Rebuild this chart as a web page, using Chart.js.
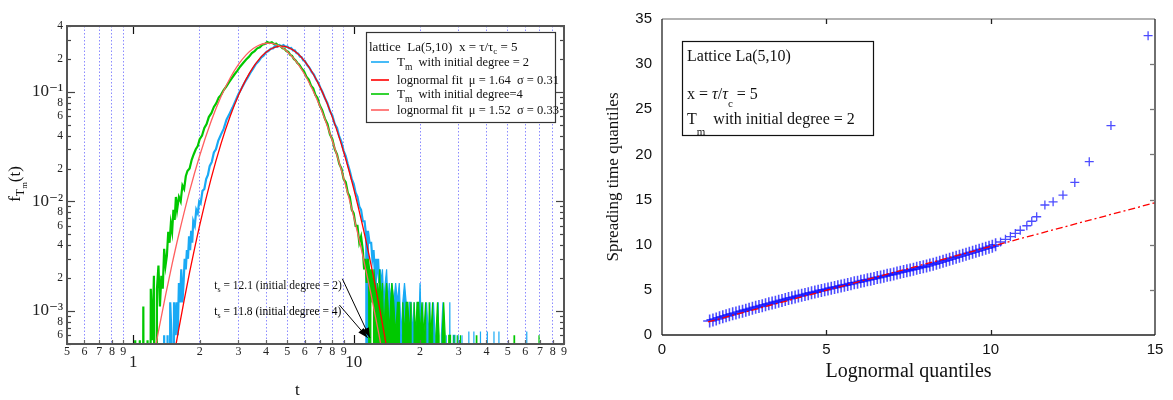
<!DOCTYPE html>
<html>
<head>
<meta charset="utf-8">
<script src="https://cdn.jsdelivr.net/npm/chart.js@4.4.0/dist/chart.umd.min.js"></script>
<style>
  html, body { margin: 0; padding: 0; background: #fff; }
  #wrap { position: relative; width: 1173px; height: 400px; overflow: hidden; }
  #left { position: absolute; left: 0; top: 0; }
  #right { position: absolute; left: 586px; top: 0; }
</style>
</head>
<body>
<div id="wrap">
  <canvas id="left" width="590" height="400"></canvas>
  <canvas id="right" width="587" height="400"></canvas>
</div>
<script>
// ---------- data: left panel (pdf of T_m, log-log) ----------
// zero bins are stored as 1e-9 so they fall off the bottom of the log axis
const deg2Body = [
  [1.36,1e-9],[1.38,6e-4],[1.40,1e-9],[1.43,6e-4],[1.45,1e-9],[1.47,1.2e-3],[1.49,6e-4],[1.51,1e-9],
  [1.53,1.2e-3],[1.55,6e-4],[1.57,1.2e-3],[1.59,6e-4],[1.61,1.8e-3],[1.63,1.2e-3],[1.65,2.4e-3],[1.67,1.2e-3],
  [1.69,1.8e-3],[1.71,3.0e-3],[1.73,2.4e-3],[1.75,3.6e-3],[1.77,3.0e-3],[1.79,4.8e-3],[1.81,3.6e-3],[1.83,5.4e-3],
  [1.85,4.2e-3],[1.87,6.6e-3],[1.90,6.0e-3],[1.93,8.4e-3],[1.96,7.8e-3],[1.99,1.0e-2],[2.02,9.6e-3],[2.06,1.25e-2],
  [2.10,1.3e-2],[2.14,1.6e-2],[2.18,1.75e-2],[2.22,2.1e-2],[2.27,2.3e-2],[2.32,2.8e-2],[2.37,3.0e-2],[2.43,3.6e-2],
  [2.50,4.1e-2],[2.57,4.6e-2],[2.65,5.6e-2],[2.73,6.3e-2],[2.82,7.2e-2],[2.91,8.3e-2],[3.00,9.6e-2],[3.10,0.108],
  [3.20,0.122],[3.30,0.135],[3.40,0.150],[3.50,0.164],[3.60,0.180],[3.70,0.190],[3.80,0.206],[3.90,0.214],
  [4.00,0.230],[4.10,0.236],[4.20,0.248],[4.30,0.250],[4.40,0.262],[4.50,0.258],[4.60,0.268],[4.70,0.262],
  [4.80,0.268],[4.90,0.258],[5.00,0.260],[5.10,0.250],[5.20,0.252],[5.30,0.240],[5.40,0.240],[5.50,0.226],
  [5.60,0.224],[5.70,0.210],[5.80,0.208],[5.90,0.194],[6.00,0.192],[6.15,0.176],[6.30,0.166],[6.45,0.152],
  [6.60,0.144],[6.75,0.130],[6.90,0.122],[7.05,0.110],[7.20,0.101],[7.40,8.8e-2],[7.60,7.9e-2],[7.80,6.7e-2],
  [8.00,6.1e-2],[8.20,5.1e-2],[8.40,4.7e-2],[8.60,3.9e-2],[8.80,3.5e-2],[9.00,2.9e-2],[9.20,2.6e-2],[9.40,2.2e-2],
  [9.60,1.9e-2],[9.80,1.6e-2],[10.0,1.45e-2],[10.2,1.2e-2],[10.4,1.1e-2],[10.6,9.0e-3],[10.8,8.4e-3],[11.0,6.6e-3],
  [11.2,6.6e-3],[11.4,4.8e-3],[11.5,1e-9],[11.6,5.4e-3],[11.8,4.2e-3],[12.0,4.2e-3],[12.15,3.0e-3],[12.3,3.6e-3],
  [12.45,2.4e-3],[12.55,1e-9],[12.6,3.0e-3],[12.75,2.4e-3],[12.9,3.0e-3],[13.05,1.8e-3]
];
const deg2Tail = [
  [13.05,1.8e-3],
  [13.2,2.4e-3],[13.35,1.8e-3],[13.5,2.4e-3],[13.7,1.2e-3],[13.9,1.8e-3],[14.1,2.4e-3],[14.3,1.2e-3],[14.5,1.8e-3],
  [14.7,1.2e-3],[14.9,1.8e-3],[15.2,1.2e-3],[15.5,1.8e-3],[15.8,1.2e-3],[16.1,1.8e-3],[16.4,6e-4],[16.7,1.2e-3],
  [17.0,1.8e-3],[17.3,1.2e-3],[17.6,6e-4],[17.9,1.2e-3],[18.2,1.2e-3],[18.5,6e-4],[18.8,1.2e-3],[19.1,1e-9],
  [19.4,1.2e-3],[19.7,6e-4],[20.0,1.8e-3],[20.3,6e-4],[20.6,1.2e-3],[21.0,1e-9],[21.4,1.2e-3],[21.8,6e-4],
  [22.2,1.2e-3],[22.6,1e-9],[23.0,1.2e-3],[23.4,6e-4],[23.8,1e-9],[24.2,1.2e-3],[24.6,1e-9],[25.0,6e-4],
  [25.4,1.2e-3],[25.8,1e-9],[26.3,6e-4],[26.8,1e-9],[27.3,1.2e-3],[27.8,1e-9],[28.3,6e-4],[28.8,6e-4],
  [29.3,1e-9],[29.8,6e-4],[30.3,1e-9],[31.0,6e-4],[31.5,1e-9],[33.0,1e-9],[33.3,6.5e-4],[33.6,1e-9],
  [34.8,1e-9],[35.1,6.5e-4],[35.4,1e-9],[37.3,1e-9],[37.6,6.5e-4],[37.9,1e-9],[40.1,1e-9],[40.4,6.5e-4],
  [40.7,1e-9],[43.0,1e-9],[43.3,6.5e-4],[43.6,1e-9],[45.3,1e-9],[45.6,6.5e-4],[45.9,1e-9],[60.7,1e-9],
  [61.0,6.5e-4],[61.3,1e-9]
];
const deg4Body = [
  [1.00,1e-9],[1.02,5.4e-4],[1.04,1e-9],[1.07,5.4e-4],[1.09,1e-9],[1.11,1.1e-3],[1.13,1e-9],[1.16,5.4e-4],
  [1.18,1e-9],[1.20,1.6e-3],[1.22,5.4e-4],[1.24,2.1e-3],[1.26,1e-9],[1.28,1.6e-3],[1.30,2.6e-3],[1.32,1.1e-3],
  [1.34,2.1e-3],[1.36,1.6e-3],[1.38,3.7e-3],[1.40,2.6e-3],[1.42,3.2e-3],[1.44,5.3e-3],[1.46,4.2e-3],[1.48,6.3e-3],
  [1.50,5.3e-3],[1.52,8.4e-3],[1.54,6.8e-3],[1.56,1.1e-2],[1.58,8.4e-3],[1.61,1.1e-2],[1.64,1.0e-2],[1.67,1.4e-2],
  [1.70,1.3e-2],[1.73,1.7e-2],[1.76,1.9e-2],[1.80,2.0e-2],[1.84,2.4e-2],[1.88,2.7e-2],[1.92,3.0e-2],[1.96,3.2e-2],
  [2.00,3.7e-2],[2.05,4.0e-2],[2.10,4.7e-2],[2.15,5.1e-2],[2.20,5.9e-2],[2.26,6.4e-2],[2.32,7.3e-2],[2.38,7.9e-2],
  [2.44,8.9e-2],[2.50,9.4e-2],[2.57,0.104],[2.64,0.112],[2.72,0.123],[2.80,0.134],[2.88,0.145],[2.96,0.156],
  [3.05,0.170],[3.15,0.184],[3.25,0.198],[3.35,0.210],[3.45,0.226],[3.55,0.236],[3.65,0.250],[3.75,0.256],
  [3.85,0.270],[3.95,0.274],[4.05,0.286],[4.15,0.280],[4.25,0.284],[4.35,0.274],[4.45,0.276],[4.55,0.264],
  [4.65,0.262],[4.75,0.250],[4.85,0.248],[4.95,0.236],[5.05,0.232],[5.15,0.218],[5.25,0.214],[5.35,0.200],
  [5.45,0.194],[5.55,0.184],[5.65,0.178],[5.80,0.164],[5.95,0.154],[6.10,0.138],[6.25,0.130],[6.40,0.114],
  [6.55,0.108],[6.70,9.4e-2],[6.85,8.8e-2],[7.00,7.6e-2],[7.20,6.8e-2],[7.40,5.7e-2],[7.60,5.1e-2],[7.80,4.1e-2],
  [8.00,3.7e-2],[8.20,3.0e-2],[8.40,2.7e-2],[8.60,2.2e-2],[8.80,2.0e-2],[9.00,1.6e-2],[9.20,1.5e-2],[9.40,1.2e-2],
  [9.60,1.1e-2],[9.80,8.4e-3],[10.0,7.8e-3],[10.2,6.0e-3],[10.4,6.0e-3],[10.6,4.2e-3],[10.8,4.8e-3],[11.0,3.6e-3],
  [11.15,2.4e-3],[11.3,3.0e-3],[11.45,1.8e-3],[11.6,3.0e-3],[11.75,2.4e-3],[11.85,1e-9],[11.9,1.8e-3],[12.05,2.4e-3],
  [12.2,1.2e-3]
];
const deg4Tail = [
  [12.2,1.2e-3],[12.35,2.4e-3],[12.5,1.8e-3],[12.65,1.2e-3],[12.8,1.8e-3],[12.95,1.2e-3],[13.1,2.4e-3],[13.3,1.2e-3],
  [13.5,1.8e-3],[13.7,6e-4],[13.9,1.2e-3],[14.1,1.8e-3],[14.3,1.2e-3],[14.5,6e-4],[14.7,1.2e-3],[14.9,1.8e-3],
  [15.2,1.2e-3],[15.5,6e-4],[15.8,1.2e-3],[16.1,1.2e-3],[16.4,1e-9],[16.7,1.2e-3],[17.0,6e-4],[17.3,1.2e-3],
  [17.6,1.2e-3],[17.9,6e-4],[18.2,1.2e-3],[18.5,1e-9],[18.8,1.2e-3],[19.1,6e-4],[19.4,1.2e-3],[19.7,1.2e-3],
  [20.0,6e-4],[20.4,1.2e-3],[20.8,6e-4],[21.2,1.2e-3],[21.6,1e-9],[22.0,1.2e-3],[22.4,6e-4],[22.8,1.2e-3],
  [23.2,1e-9],[23.6,6e-4],[24.0,1.2e-3],[24.4,6e-4],[24.8,1e-9],[25.2,6e-4],[25.6,1.2e-3],[26.0,6e-4],
  [26.5,1e-9],[27.0,6e-4],[27.5,6e-4],[28.0,1e-9],[28.5,6e-4],[29.0,1e-9],[29.5,6e-4],[30.0,1e-9],
  [30.5,6e-4],[31.0,1e-9],[35.8,1e-9],[36.0,6e-4],[36.2,1e-9],[53.1,1e-9],[53.4,6e-4],[53.7,1e-9],
  [69.0,1e-9],[69.3,6e-4],[69.6,1e-9]
];
// lognormal fits, values
const fit2 = [
  [1.55,4.53e-4],[1.6,6.49e-4],[1.7,1.252e-3],[1.8,2.253e-3],[2.0,6.06e-3],[2.25,1.599e-2],[2.5,3.375e-2],
  [2.75,5.995e-2],[3.0,9.33e-2],[3.25,0.1309],[3.5,0.1685],[3.75,0.2026],[4.0,0.2301],[4.25,0.2494],[4.5,0.2598],
  [4.75,0.2616],[5.0,0.2561],[5.5,0.2289],[6.0,0.1902],[6.5,0.1497],[7.0,0.1130],[7.5,0.0826],[8.0,0.0589],
  [8.5,0.0412],[9.0,0.02843],[9.5,0.01938],[10,0.01311],[11,5.89e-3],[12,2.61e-3],[13,1.155e-3],[14,5.10e-4],[14.25,4.16e-4]
];
const fit4 = [
  [1.25,4.28e-4],[1.3,6.53e-4],[1.4,1.39e-3],[1.5,2.689e-3],[1.6,4.79e-3],[1.8,1.243e-2],[2.0,2.618e-2],
  [2.25,5.34e-2],[2.5,9.07e-2],[2.75,0.1342],[3.0,0.1783],[3.25,0.2179],[3.5,0.2489],[3.75,0.2692],[4.0,0.2784],
  [4.25,0.2776],[4.5,0.2683],[4.75,0.2528],[5.0,0.2331],[5.5,0.1879],[6.0,0.1435],[6.5,0.1054],[7.0,0.0751],
  [7.5,0.05236],[8.0,0.0359],[8.5,0.02433],[9.0,0.01636],[9.5,0.01092],[10,7.26e-3],[11,3.19e-3],[12,1.402e-3],
  [13,6.18e-4],[13.5,4.12e-4]
];
const tsValues = [12.1, 11.8];
const tsNotes = [' = 12.1 (initial degree = 2)', ' = 11.8 (initial degree = 4)'];
const legendLeft = [
  ['T', 'm', '  with initial degree = 2'],
  ['lognormal fit  \u03bc = 1.64  \u03c3 = 0.31'],
  ['T', 'm', '  with initial degree=4'],
  ['lognormal fit  \u03bc = 1.52  \u03c3 = 0.33']
];
const xTicksLog = [0.5,0.6,0.7,0.8,0.9,1,2,3,4,5,6,7,8,9,10,20,30,40,50,60,70,80,90];
const yTicksLog = [5e-4,6e-4,7e-4,8e-4,9e-4,1e-3,2e-3,3e-3,4e-3,5e-3,6e-3,7e-3,8e-3,9e-3,
  1e-2,2e-2,3e-2,4e-2,5e-2,6e-2,7e-2,8e-2,9e-2,0.1,0.2,0.3,0.4];

// ---------- data: right panel (QQ plot) ----------
const qqPoints = [
  [1.45,1.55],[1.55,1.67],[1.65,1.78],[1.75,1.90],[1.85,2.01],[1.95,2.12],[2.05,2.23],[2.15,2.34],
  [2.25,2.44],[2.35,2.54],[2.45,2.64],[2.55,2.75],[2.65,2.85],[2.75,2.95],[2.85,3.06],[2.95,3.15],
  [3.05,3.25],[3.15,3.35],[3.25,3.45],[3.35,3.54],[3.45,3.64],[3.55,3.74],[3.65,3.83],[3.75,3.93],
  [3.85,4.03],[3.95,4.12],[4.05,4.21],[4.15,4.31],[4.25,4.40],[4.35,4.48],[4.45,4.58],[4.55,4.67],
  [4.65,4.75],[4.75,4.85],[4.85,4.94],[4.95,5.02],[5.05,5.10],[5.15,5.19],[5.25,5.27],[5.35,5.35],
  [5.45,5.44],[5.55,5.52],[5.65,5.60],[5.75,5.69],[5.85,5.78],[5.95,5.85],[6.05,5.94],[6.15,6.02],
  [6.25,6.11],[6.35,6.18],[6.45,6.27],[6.55,6.36],[6.65,6.43],[6.75,6.52],[6.85,6.61],[6.95,6.68],
  [7.05,6.77],[7.15,6.86],[7.25,6.95],[7.35,7.03],[7.45,7.12],[7.55,7.21],[7.65,7.29],[7.75,7.38],
  [7.85,7.47],[7.95,7.55],[8.05,7.65],[8.15,7.75],[8.25,7.85],[8.35,7.95],[8.45,8.06],[8.55,8.18],
  [8.65,8.28],[8.75,8.39],[8.85,8.51],[8.95,8.61],[9.05,8.72],[9.15,8.84],[9.25,8.95],[9.35,9.06],
  [9.45,9.17],[9.55,9.28],[9.65,9.38],[9.75,9.50],[9.85,9.61],[9.95,9.71],[10.05,9.84],
  [10.15,10.0],[10.3,10.3],[10.45,10.6],[10.6,10.9],[10.75,11.25],[10.9,11.6],
  [11.1,12.1],[11.25,12.6],[11.4,13.1],[11.65,14.4],[11.9,14.75],[12.2,15.5],[12.56,16.9],[13.0,19.2],
  [13.66,23.2],[14.79,33.15]
];
const qqFit = [[1.4,1.45],[15,14.65]];
const legendRight = ['Lattice La(5,10)', '= 5', 'with initial degree = 2'];

// ---------- styling helpers ----------
const SERIF = '"Liberation Serif", "DejaVu Serif", serif';
const SANS = '"Liberation Sans", Arial, sans-serif';
const BLUE = 'rgb(25,170,245)';
const GREEN = 'rgb(0,200,0)';
const RED = 'rgb(255,0,0)';
const PINK = 'rgb(255,95,95)';
const SUP = { '-': '\u207b', '1': '\u00b9', '2': '\u00b2', '3': '\u00b3', '4': '\u2074' };

const pts = (arr) => arr.map(([x, y]) => ({ x, y }));
function mant(v) {
  const e = Math.floor(Math.log10(v) + 1e-9);
  return { m: Math.round(v / Math.pow(10, e)), e };
}
function sup(n) { return String(n).split('').map(c => SUP[c]).join(''); }
function rich(ctx, x, y, parts) {
  parts.forEach(p => {
    ctx.font = `${p.italic ? 'italic ' : ''}${p.size}px ${SERIF}`;
    ctx.fillText(p.t, x, y + (p.dy || 0));
    x += ctx.measureText(p.t).width;
  });
  return x;
}
function richWidth(ctx, parts) {
  return parts.reduce((w, p) => { ctx.font = `${p.size}px ${SERIF}`; return w + ctx.measureText(p.t).width; }, 0);
}
function seg(ctx, x1, y1, x2, y2) { ctx.beginPath(); ctx.moveTo(x1, y1); ctx.lineTo(x2, y2); ctx.stroke(); }

// ---------- left panel ----------
const leftDecor = {
  id: 'leftDecor',
  afterDraw(chart) {
    const { ctx, chartArea: a, scales: { x, y } } = chart;
    ctx.save();
    // inward ticks
    ctx.strokeStyle = '#444'; ctx.lineWidth = 1.2;
    y.ticks.forEach(t => {
      const py = Math.round(y.getPixelForValue(t.value)) + 0.5;
      const len = mant(t.value).m === 1 ? 8 : 4;
      seg(ctx, a.left, py, a.left + len, py);
      seg(ctx, a.right, py, a.right - len, py);
    });
    x.ticks.forEach(t => {
      const px = Math.round(x.getPixelForValue(t.value)) + 0.5;
      if (mant(t.value).m === 1) {
        ctx.strokeStyle = '#111';
        seg(ctx, px, a.bottom, px, a.bottom - 9);
        seg(ctx, px, a.top, px, a.top + 8);
      } else {
        ctx.strokeStyle = '#666';
        seg(ctx, px, a.bottom, px, a.bottom - 4);
      }
    });
    // frame
    ctx.strokeStyle = '#555'; ctx.lineWidth = 2;
    ctx.strokeRect(a.left, a.top, a.right - a.left, a.bottom - a.top);

    // axis titles
    ctx.fillStyle = '#111'; ctx.textBaseline = 'alphabetic';
    ctx.font = `17px ${SERIF}`;
    ctx.fillText('t', 295, 395);
    const yTitle = [{ t: 'f', size: 17 }, { t: 'T', size: 12, dy: 4 }, { t: 'm', size: 8.5, dy: 7 }, { t: '(t)', size: 17 }];
    ctx.save();
    ctx.translate(20, 184); ctx.rotate(-Math.PI / 2);
    rich(ctx, -richWidth(ctx, yTitle) / 2, 0, yTitle);
    ctx.restore();

    // t_s annotations with arrows
    const noteX = x.getPixelForValue(2.33);
    const noteY = [y.getPixelForValue(1.59e-3), y.getPixelForValue(9.2e-4)];
    const tails = [[x.getPixelForValue(8.88), y.getPixelForValue(1.97e-3)], [x.getPixelForValue(8.61), y.getPixelForValue(1.135e-3)]];
    tsValues.forEach((ts, i) => {
      rich(ctx, noteX, noteY[i], [{ t: 't', size: 11.5 }, { t: 's', size: 8, dy: 3 }, { t: tsNotes[i], size: 11.5 }]);
      const tx = x.getPixelForValue(ts) - 2, ty = y.getPixelForValue(5.7e-4);
      const [sx, sy] = tails[i];
      ctx.strokeStyle = '#000'; ctx.lineWidth = 1;
      seg(ctx, sx, sy, tx, ty);
      const ang = Math.atan2(ty - sy, tx - sx);
      ctx.beginPath();
      ctx.moveTo(tx, ty);
      ctx.lineTo(tx - 10 * Math.cos(ang) + 3.5 * Math.sin(ang), ty - 10 * Math.sin(ang) - 3.5 * Math.cos(ang));
      ctx.lineTo(tx - 10 * Math.cos(ang) - 3.5 * Math.sin(ang), ty - 10 * Math.sin(ang) + 3.5 * Math.cos(ang));
      ctx.closePath(); ctx.fillStyle = '#000'; ctx.fill();
    });

    // legend box
    const bx = a.right - 198, by = a.top + 6, bw = 189, bh = 90;
    ctx.fillStyle = '#fff'; ctx.fillRect(bx, by, bw, bh);
    ctx.strokeStyle = '#333'; ctx.lineWidth = 1.2; ctx.strokeRect(bx + 0.5, by + 0.5, bw, bh);
    ctx.fillStyle = '#111';
    rich(ctx, bx + 3, by + 19, [
      { t: 'lattice  La(5,10)  x = \u03c4/\u03c4', size: 13 }, { t: 'c', size: 9, dy: 3 }, { t: ' = 5', size: 13 }
    ]);
    const colors = [BLUE, RED, GREEN, PINK];
    const rows = [30, 48, 62, 78];
    legendLeft.forEach((parts, i) => {
      const ly = by + rows[i];
      ctx.strokeStyle = colors[i]; ctx.lineWidth = 1.6;
      seg(ctx, bx + 5, ly, bx + 23, ly);
      ctx.fillStyle = '#111';
      const p = parts.length === 3
        ? [{ t: parts[0], size: 13 }, { t: parts[1], size: 9.5, dy: 4 }, { t: parts[2], size: 12.5 }]
        : [{ t: parts[0], size: 12.5 }];
      rich(ctx, bx + 31, ly + 4, p);
    });
    ctx.restore();
  }
};

const lineDs = (data, color, width, order, extra) => Object.assign({
  data: pts(data), showLine: true, borderColor: color, backgroundColor: color,
  borderWidth: width, pointRadius: 0, order
}, extra || {});

new Chart(document.getElementById('left'), {
  type: 'scatter',
  data: {
    datasets: [
      lineDs(fit4, PINK, 1.3, 0, { cubicInterpolationMode: 'monotone' }),
      lineDs(fit2, RED, 1.3, 1, { cubicInterpolationMode: 'monotone' }),
      lineDs(deg4Tail, GREEN, 1.2, 2, { fill: 'start' }),
      lineDs(deg4Body, GREEN, 2.2, 3),
      lineDs(deg2Tail, BLUE, 1.2, 4, { fill: 'start' }),
      lineDs(deg2Body, BLUE, 2.2, 5)
    ]
  },
  options: {
    responsive: false, animation: false, events: [],
    layout: { padding: { top: 26, right: 26, left: 0, bottom: 0 } },
    plugins: { legend: { display: false }, tooltip: { enabled: false } },
    scales: {
      x: {
        type: 'logarithmic', min: 0.5, max: 90,
        afterBuildTicks: s => { s.ticks = xTicksLog.map(v => ({ value: v, major: mant(v).m === 1 })); },
        afterFit: s => { s.height = 56; },
        grid: {
          drawTicks: false, lineWidth: 1,
          color: c => (c.tick && mant(c.tick.value).m !== 1) ? 'rgba(110,110,255,0.8)' : 'rgba(0,0,0,0)'
        },
        border: { display: false, dash: [1.5, 2] },
        ticks: {
          autoSkip: false, maxRotation: 0, minRotation: 0, padding: 2, color: '#222',
          font: c => (c.tick && mant(c.tick.value).m === 1)
            ? { family: SERIF, size: 17, lineHeight: 1.9 }
            : { family: SERIF, size: 12, lineHeight: 1 },
          callback: v => { const { m } = mant(v); return m === 1 ? String(v) : String(m); }
        }
      },
      y: {
        type: 'logarithmic', min: 5e-4, max: 0.4,
        afterBuildTicks: s => { s.ticks = yTicksLog.map(v => ({ value: v, major: mant(v).m === 1 })); },
        afterFit: s => { s.width = 67; },
        grid: { display: false, drawTicks: false },
        border: { display: false },
        ticks: {
          autoSkip: false, padding: 4, color: '#222',
          font: c => (c.tick && mant(c.tick.value).m === 1)
            ? { family: SERIF, size: 17, lineHeight: 1.2 }
            : { family: SERIF, size: 11.5, lineHeight: 1.2 },
          callback: v => {
            const { m, e } = mant(v);
            if (m === 1) return '10' + sup(e);
            return m % 2 === 0 ? String(m) : '';
          }
        }
      }
    }
  },
  plugins: [leftDecor]
});

// ---------- right panel ----------
const rightDecor = {
  id: 'rightDecor',
  afterDraw(chart) {
    const { ctx, chartArea: a, scales: { x, y } } = chart;
    ctx.save();
    ctx.lineWidth = 1.3;
    ctx.strokeStyle = '#999';
    seg(ctx, a.left, a.top, a.right, a.top);
    ctx.strokeStyle = '#222';
    seg(ctx, a.left, a.top, a.left, a.bottom);
    seg(ctx, a.left, a.bottom, a.right, a.bottom);
    seg(ctx, a.right, a.top, a.right, a.bottom);
    x.ticks.forEach(t => {
      if (t.value <= x.min || t.value >= x.max) return;
      const px = Math.round(x.getPixelForValue(t.value)) + 0.5;
      seg(ctx, px, a.bottom, px, a.bottom - 5);
      seg(ctx, px, a.top, px, a.top + 5);
    });
    ctx.strokeStyle = '#777';
    y.ticks.forEach(t => {
      if (t.value <= y.min || t.value >= y.max) return;
      const py = Math.round(y.getPixelForValue(t.value)) + 0.5;
      seg(ctx, a.right, py, a.right - 5, py);
    });
    // legend box
    const bx = a.left + 20, by = a.top + 22, bw = 191, bh = 94;
    ctx.fillStyle = '#fff'; ctx.fillRect(bx, by, bw, bh);
    ctx.strokeStyle = '#111'; ctx.lineWidth = 1.2; ctx.strokeRect(bx + 0.5, by + 0.5, bw, bh);
    ctx.fillStyle = '#111';
    rich(ctx, bx + 5, by + 20, [{ t: legendRight[0], size: 16 }]);
    rich(ctx, bx + 5, by + 58, [
      { t: 'x = ', size: 16 }, { t: '\u03c4', size: 16, italic: true }, { t: '/', size: 16 },
      { t: '\u03c4', size: 16, italic: true }, { t: 'c', size: 11, dy: 8 }, { t: ' ' + legendRight[1], size: 16 }
    ]);
    rich(ctx, bx + 5, by + 83, [{ t: 'T', size: 16 }, { t: 'm', size: 11, dy: 11 }, { t: '  ' + legendRight[2], size: 16 }]);
    ctx.restore();
  }
};

new Chart(document.getElementById('right'), {
  type: 'scatter',
  data: {
    datasets: [
      {
        data: pts(qqFit), showLine: true, borderColor: RED, borderWidth: 1.3,
        borderDash: [7, 3, 2, 3], pointRadius: 0, order: 0
      },
      {
        data: pts(qqPoints), pointStyle: 'cross',
        // bigger crosses inside the dense band, normal size for the isolated upper-tail points
        pointRadius: c => (c.raw && c.raw.x < 10.2) ? 6.5 : 4.5,
        pointBorderColor: 'rgba(0,0,255,0.7)', borderColor: 'rgba(0,0,255,0.7)',
        pointBorderWidth: c => (c.raw && c.raw.x < 10.2) ? 1.6 : 1.3, order: 1
      }
    ]
  },
  options: {
    responsive: false, animation: false, events: [],
    layout: { padding: { top: 14, right: 18, left: 0, bottom: 0 } },
    plugins: { legend: { display: false }, tooltip: { enabled: false } },
    scales: {
      x: {
        type: 'linear', min: 0, max: 15,
        afterFit: s => { s.height = 65; },
        grid: { display: false, drawTicks: false },
        border: { display: false },
        ticks: { stepSize: 5, padding: 6, color: '#111', font: { family: SANS, size: 15, lineHeight: 1.2 } },
        title: {
          display: true, text: 'Lognormal quantiles', color: '#111',
          font: { family: SERIF, size: 20, lineHeight: 1.2 }, padding: { top: 0, bottom: 16 }
        }
      },
      y: {
        type: 'linear', min: 0, max: 35,
        afterFit: s => { s.width = 76; },
        grid: { display: false, drawTicks: false },
        border: { display: false },
        ticks: { stepSize: 5, padding: 10, color: '#111', font: { family: SANS, size: 15 } },
        title: {
          display: true, text: 'Spreading time quantiles', color: '#111',
          font: { family: SERIF, size: 17, lineHeight: 1.2 }, padding: { top: 17, bottom: 0 }
        }
      }
    }
  },
  plugins: [rightDecor]
});
</script>
</body>
</html>
